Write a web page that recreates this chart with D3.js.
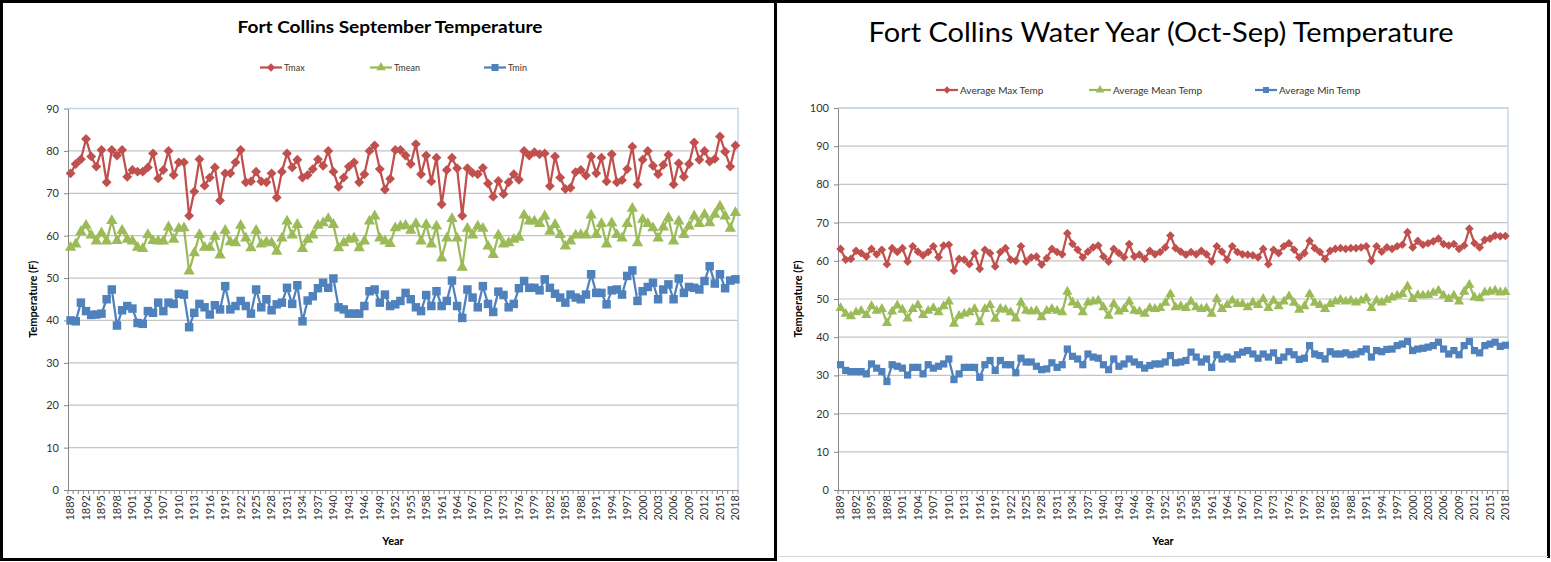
<!DOCTYPE html>
<html>
<head>
<meta charset="utf-8">
<script src="https://cdn.jsdelivr.net/npm/d3@7"></script>
<style>
  body { margin: 0; background: #fff; }
  svg { display: block; }
</style>
</head>
<body>
<script>
// #Years on the category axis (1889-2018)
const years = d3.range(1889, 2019);
const yearLabels = years.filter((d, i) => i % 3 === 0);

// #September temperature (F)
const sepTmax = [
  74.7, 76.9, 78, 82.8, 78.7, 76.3, 80.2, 72.6, 80.2, 78.9, 80.2, 73.9, 75.5, 75.1, 75.1, 76.1, 79.4, 73.5, 75.5, 80,
  74.3, 77.3, 77.3, 64.7, 70.4, 78, 71.8, 73.7, 76.1, 68.3, 74.7, 74.7, 77.3, 80.2, 72.6, 72.8, 75.1, 72.8, 72.6, 74.7,
  69, 75.1, 79.4, 76.1, 77.9, 73.7, 74.3, 75.7, 78, 76.5, 80, 75.1, 71.5, 73.7, 76.3, 77.3, 72.6, 74.5, 80, 81.3,
  75.7, 70.9, 73.4, 80.2, 80.2, 78.9, 76.9, 81.6, 74.5, 78.9, 72.8, 78.4, 67.4, 75.5, 78.4, 75.9, 64.7, 75.9, 74.8, 74.5,
  76, 72.3, 69.2, 72.9, 69.8, 72.6, 74.5, 73.2, 80, 78.9, 79.7, 79.2, 79.4, 71.7, 78.7, 73.7, 71, 71.3, 75, 75.5,
  74.2, 78.7, 74.7, 78.4, 72.8, 79.2, 72.6, 73.1, 75.7, 81, 72.1, 77.9, 80, 76.5, 74.5, 76.7, 79.1, 72.1, 77.1, 73.9,
  76.9, 82, 77.9, 80, 77.5, 78.1, 83.4, 79.8, 76.3, 81.3
];
const sepTmean = [
  57.2, 58, 60.9, 62.4, 60.1, 58.7, 60.6, 58.7, 63.5, 58.8, 61.2, 59.1, 58.7, 57.2, 56.9, 60.2, 58.8, 58.7, 58.7, 62,
  59.1, 61.7, 61.8, 51.6, 55.9, 60.2, 57.2, 57.2, 59.8, 55.4, 61.2, 58.5, 58.3, 62.4, 59.4, 57.1, 61.2, 58, 58.5, 58.3,
  56.3, 59.4, 63.4, 60.1, 62.6, 56.9, 59.1, 60.1, 62.4, 63, 64, 62.6, 57.1, 58.3, 59.1, 59.4, 57.1, 58.7, 63.4, 64.6,
  59.4, 58.7, 58.1, 61.8, 62.2, 62.4, 61.2, 62.8, 58.7, 62.6, 58, 62.2, 54.7, 59.4, 64, 59.4, 52.5, 61.7, 60.1, 62.2,
  61.7, 57.5, 55.5, 60.1, 58, 58.3, 59.1, 59.6, 64.8, 63.4, 63.4, 62.8, 64.6, 61, 62.6, 60.2, 57.5, 58.7, 60.1, 60.2,
  60.1, 64.8, 60.2, 62.8, 58, 63, 60.2, 59.4, 62.8, 66.4, 58.3, 63.8, 62.8, 61.8, 59.4, 62, 64.2, 58.7, 63.4, 60.2,
  62.2, 64.6, 62.8, 65, 63, 65, 66.9, 64.6, 61.7, 65.4
];
const sepTmin = [
  40, 39.8, 44.2, 42.2, 41.3, 41.4, 41.6, 45, 47.3, 38.8, 42.4, 43.4, 42.8, 39.4, 39.2, 42.2, 41.8, 44.2, 42.2, 44.2,
  43.9, 46.3, 46.1, 38.4, 41.8, 43.9, 43.1, 41.4, 43.6, 42.6, 48.1, 42.6, 43.4, 44.6, 43.4, 41.6, 47.3, 43.1, 45, 42.4,
  43.8, 44.2, 47.7, 43.9, 48.3, 39.8, 44.7, 45.7, 47.6, 48.9, 47.7, 49.9, 43.1, 42.6, 41.6, 41.6, 41.6, 43.4, 46.9, 47.3,
  44.2, 46.1, 43.4, 43.8, 44.6, 46.5, 45, 43.1, 42.2, 46, 43.4, 46.9, 43.4, 44.6, 49.4, 43.4, 40.6, 47.3, 45.4, 43.1,
  48.1, 43.9, 42, 46.8, 46, 43.1, 43.9, 47.6, 49.3, 47.7, 47.7, 47.1, 49.7, 47.7, 46.3, 45.4, 44.2, 46.1, 45.4, 45,
  46.1, 50.9, 46.5, 46.5, 43.8, 47.1, 47.3, 46.1, 50.5, 51.8, 44.6, 46.9, 47.9, 48.9, 45, 47.3, 48.5, 45, 49.9, 46.5,
  47.9, 47.7, 47.3, 49.3, 52.8, 48.7, 50.9, 47.6, 49.4, 49.7
];

// #Water year (Oct-Sep) average temperature (F)
const wyTmax = [
  63.1, 60.3, 60.5, 62.6, 62, 61.1, 63.1, 61.7, 62.9, 59.1, 63.3, 62.3, 63.3, 59.8, 63.8, 62.4, 61.4, 62.3, 63.8, 60.9,
  64, 64.2, 57.4, 60.5, 60.3, 59.1, 62, 57.9, 62.9, 62, 58.5, 62.3, 63.3, 60.3, 60, 63.8, 59.8, 60.9, 61.1, 59,
  60.7, 63.1, 62.3, 61.7, 67.2, 64.4, 62.9, 60.9, 62.4, 63.5, 64, 61.1, 59.8, 63.1, 62, 60.9, 64.4, 61.1, 61.6, 60.5,
  62.6, 61.7, 62.3, 63.5, 66.6, 63.3, 62.4, 61.6, 62.3, 61.7, 62.6, 61.7, 59.8, 63.8, 62.4, 60.3, 63.8, 62.3, 61.7, 61.6,
  61.4, 60.9, 63.1, 59.1, 62.9, 62, 63.8, 64.6, 62.9, 60.9, 62, 65.2, 63.3, 62.3, 60.5, 62.6, 63.1, 63.3, 63.1, 63.3,
  63.3, 63.5, 63.8, 60, 63.8, 62.4, 63.5, 63.1, 63.8, 64.2, 67.5, 63.5, 65.2, 64.2, 64.6, 65.1, 65.8, 64.4, 64, 64.4,
  63.1, 64, 68.4, 64.6, 63.5, 65.5, 65.8, 66.6, 66.4, 66.5
];
const wyTmean = [
  47.6, 46.1, 45.5, 46.5, 46.9, 45.8, 48.1, 46.9, 47.4, 43.7, 46.7, 48.3, 47.2, 44.9, 47.4, 48.4, 45.8, 46.9, 47.6, 46.5,
  48.1, 49.3, 43.5, 45.6, 46.1, 46.5, 47.4, 43.9, 47.4, 48.4, 44.8, 47.4, 47.2, 46.5, 44.9, 49.1, 46.9, 46.7, 46.9, 45.2,
  46.9, 47.4, 46.9, 46.5, 51.9, 49.1, 48.4, 46.5, 49.1, 49.3, 49.6, 47.8, 45.6, 48.7, 46.7, 47.4, 49.3, 46.9, 46.7, 46.1,
  47.6, 47.4, 47.6, 49, 51.3, 47.8, 48.1, 47.6, 49.3, 47.8, 47.4, 47.6, 46.1, 50, 47.4, 48.4, 49.6, 48.7, 48.7, 47.8,
  49.1, 48.4, 50, 47.6, 49.6, 48.1, 49.3, 50.7, 49, 47.2, 48.1, 51.3, 49, 48.4, 47.4, 48.7, 49.3, 49.8, 49.3, 49.6,
  49.1, 49.6, 50.2, 47.6, 49.6, 49.1, 49.8, 50.4, 50.9, 51.3, 53.3, 50, 51, 50.9, 51, 51.6, 52.2, 50.9, 50, 50.9,
  49.3, 51.9, 53.7, 50.4, 50.2, 51.7, 51.9, 52.2, 51.7, 51.8
];
const wyTmin = [
  32.8, 31.3, 31, 31, 31, 30.4, 33, 31.9, 31, 28.4, 32.8, 32.4, 31.9, 30.1, 32.1, 32.1, 30.4, 32.8, 31.9, 32.4,
  33, 34.3, 28.9, 30.4, 32.1, 32.1, 32.1, 29.5, 32.8, 33.9, 31.3, 33.9, 32.8, 32.8, 30.7, 34.5, 33.5, 33.5, 32.4, 31.5,
  31.7, 33.3, 32.1, 32.8, 36.9, 35, 34.3, 32.8, 35.6, 34.8, 34.5, 32.8, 31.5, 34.3, 32.4, 33, 34.3, 33.5, 32.8, 31.9,
  32.6, 33, 33, 33.5, 35.2, 33.3, 33.5, 33.9, 36.1, 34.8, 33.5, 34.3, 32.1, 35.4, 34.3, 34.8, 34.3, 35.4, 36.1, 36.5,
  35.6, 34.5, 35.6, 34.8, 35.9, 33.9, 34.8, 36.2, 35.4, 34.2, 34.5, 37.8, 35.6, 35.2, 34.3, 36.2, 35.6, 35.6, 35.9, 35.4,
  35.6, 36.2, 36.9, 34.8, 36.5, 36.2, 36.8, 36.9, 37.8, 38.2, 38.9, 36.5, 36.9, 37.1, 37.4, 37.8, 38.7, 36.9, 35.6, 36.5,
  35.4, 37.8, 38.9, 36.5, 35.9, 37.8, 38.2, 38.7, 37.6, 37.9
];

const FONT = 'Lato, "Open Sans", "DejaVu Sans", sans-serif';
const RED = '#C0504D', GREEN = '#9BBB59', BLUE = '#4F81BD';

// #Define SVG
const width = 1551, height = 562;
const svg = d3.select('body')
              .append('svg')
              .attr('width', width)
              .attr('height', height)
              .style('font-family', FONT);

svg.append('rect').attr('width', width).attr('height', height).attr('fill', '#fff');

// #Panel frames
svg.append('rect')
   .attr('x', 1.5).attr('y', 1.5)
   .attr('width', 774).attr('height', 558)
   .attr('fill', 'none').attr('stroke', '#000').attr('stroke-width', 3);
svg.append('path')
   .attr('d', 'M776,1.5H1548.5V558')
   .attr('fill', 'none').attr('stroke', '#000').attr('stroke-width', 3);
svg.append('line')
   .attr('x1', 778).attr('x2', 1548).attr('y1', 556.5).attr('y2', 556.5)
   .attr('stroke', '#d9d9d9');

function drawChart(cfg) {
    const g = svg.append('g');

    const x = d3.scaleBand()
                .domain(years)
                .range([cfg.left, cfg.right]);
    const y = d3.scaleLinear()
                .domain([0, cfg.yMax])
                .range([cfg.bottom, cfg.top]);
    const cx = d => x(d) + x.bandwidth() / 2;
    const yTicks = d3.range(0, cfg.yMax + 1, 10);

// #Gridlines
    g.append('g')
     .selectAll('line')
     .data(yTicks.slice(1))
     .join('line')
     .attr('x1', cfg.left).attr('x2', cfg.right)
     .attr('y1', d => y(d)).attr('y2', d => y(d))
     .attr('stroke', '#c4c4c4')
     .attr('stroke-width', 1.2);

// #Plot area border
    g.append('path')
     .attr('d', `M${cfg.left},${cfg.top}H${cfg.right}V${cfg.bottom}`)
     .attr('fill', 'none')
     .attr('stroke', '#c6d6ec')
     .attr('stroke-width', 1.5);

// #Y axis
    const yAxis = g.append('g')
                   .attr('transform', `translate(${cfg.left},0)`)
                   .call(d3.axisLeft(y).tickValues(yTicks).tickSize(4).tickSizeOuter(0).tickPadding(5));
    yAxis.attr('font-family', FONT).attr('font-size', 11);
    yAxis.select('.domain').attr('stroke', '#868686');
    yAxis.selectAll('.tick line').attr('stroke', '#868686');
    yAxis.selectAll('.tick text').attr('fill', '#333');

// #X axis
    const xAxis = g.append('g')
                   .attr('transform', `translate(0,${cfg.bottom})`)
                   .call(d3.axisBottom(x).tickValues(yearLabels).tickSize(0).tickSizeOuter(0));
    xAxis.attr('font-family', FONT).attr('font-size', 11);
    xAxis.select('.domain').attr('stroke', '#868686');
    xAxis.selectAll('.tick text')
         .attr('fill', '#333')
         .attr('transform', 'rotate(-90)')
         .attr('text-anchor', 'end')
         .attr('x', -5)
         .attr('y', 0)
         .attr('dy', '0.35em');

    g.append('g')
     .selectAll('line')
     .data(years.map(d => x(d)).concat([cfg.right]))
     .join('line')
     .attr('x1', d => d).attr('x2', d => d)
     .attr('y1', cfg.bottom).attr('y2', cfg.bottom + 4)
     .attr('stroke', '#868686');

// #Axis titles
    g.append('text')
     .attr('transform', `translate(${cfg.yTitleX},${(cfg.top + cfg.bottom) / 2}) rotate(-90)`)
     .attr('text-anchor', 'middle')
     .attr('font-size', 11)
     .attr('font-weight', 'bold')
     .text('Temperature (F)');
    g.append('text')
     .attr('x', cfg.xTitleX).attr('y', 545)
     .attr('text-anchor', 'middle')
     .attr('font-size', 11)
     .attr('font-weight', 'bold')
     .text('Year');

// #Chart title
    g.append('text')
     .attr('x', cfg.titleX).attr('y', cfg.titleY)
     .attr('text-anchor', 'middle')
     .attr('font-size', cfg.titleSize)
     .attr('font-weight', cfg.titleWeight)
     .attr('textLength', cfg.titleLength)
     .attr('lengthAdjust', 'spacingAndGlyphs')
     .text(cfg.title);

// #Series lines and markers
    const line = d3.line()
                   .x(d => cx(d.year))
                   .y(d => y(d.value));

    cfg.series.forEach(s => {
        const pts = years.map((yr, i) => ({ year: yr, value: s.values[i] }));
        g.append('path')
         .datum(pts)
         .attr('d', line)
         .attr('fill', 'none')
         .attr('stroke', s.color)
         .attr('stroke-width', 2.25)
         .attr('stroke-linejoin', 'round');
        g.append('g')
         .selectAll('path')
         .data(pts)
         .join('path')
         .attr('transform', d => `translate(${cx(d.year)},${y(d.value)})`)
         .attr('d', d3.symbol().type(s.symbol).size(s.size))
         .attr('fill', s.color);
    });

// #Legend
    const legend = g.append('g')
                    .attr('transform', `translate(0,${cfg.legendY})`);
    cfg.series.forEach((s, i) => {
        const lx = cfg.legendX[i];
        legend.append('line')
              .attr('x1', lx - 11).attr('x2', lx + 11)
              .attr('stroke', s.color).attr('stroke-width', 2.25);
        legend.append('path')
              .attr('transform', `translate(${lx},0)`)
              .attr('d', d3.symbol().type(s.symbol).size(s.size * 0.7))
              .attr('fill', s.color);
        legend.append('text')
              .attr('x', lx + 13)
              .attr('dy', '0.35em')
              .attr('font-size', cfg.legendSize)
              .attr('fill', '#333')
              .text(s.name);
    });
}

drawChart({
    left: 68, right: 738, top: 108.5, bottom: 490, yMax: 90,
    yTitleX: 37, xTitleX: 393,
    title: 'Fort Collins September Temperature', titleX: 390, titleY: 33,
    titleSize: 17, titleWeight: 'bold', titleLength: 305,
    legendY: 67.5, legendX: [271, 381, 495], legendSize: 9,
    series: [
        { name: 'Tmax',  values: sepTmax,  color: RED,   symbol: d3.symbolDiamond2, size: 62 },
        { name: 'Tmean', values: sepTmean, color: GREEN, symbol: d3.symbolTriangle, size: 56 },
        { name: 'Tmin',  values: sepTmin,  color: BLUE,  symbol: d3.symbolSquare,   size: 72 }
    ]
});

drawChart({
    left: 838, right: 1508, top: 108, bottom: 490, yMax: 100,
    yTitleX: 802, xTitleX: 1163,
    title: 'Fort Collins Water Year (Oct-Sep) Temperature', titleX: 1161, titleY: 42,
    titleSize: 26, titleWeight: 'normal', titleLength: 585,
    legendY: 90, legendX: [947, 1100, 1266], legendSize: 10,
    series: [
        { name: 'Average Max Temp',  values: wyTmax,  color: RED,   symbol: d3.symbolDiamond2, size: 48 },
        { name: 'Average Mean Temp', values: wyTmean, color: GREEN, symbol: d3.symbolTriangle, size: 45 },
        { name: 'Average Min Temp',  values: wyTmin,  color: BLUE,  symbol: d3.symbolSquare,   size: 52 }
    ]
});
</script>
</body>
</html>
